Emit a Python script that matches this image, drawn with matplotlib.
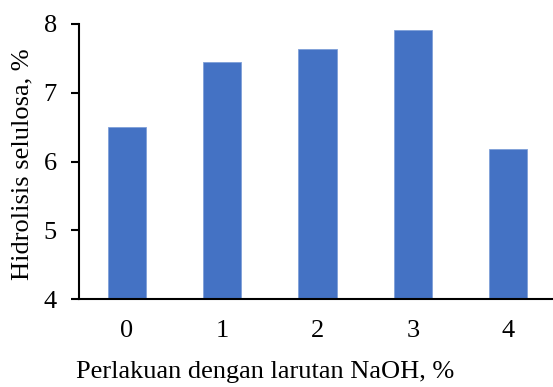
import matplotlib.pyplot as plt
import numpy as np

plt.rcParams["font.family"] = ["Liberation Serif", "DejaVu Serif"]

# data
naoh = ["0", "1", "2", "3", "4"]
hidrolisis = [6.5, 7.45, 7.64, 7.91, 6.18]

fig = plt.figure(figsize=(5.53, 3.87), dpi=100)
ax = fig.add_axes([79 / 553, 1 - 299 / 387, 477 / 553, 275 / 387])

x = np.arange(len(naoh))
ax.bar(x, hidrolisis, width=0.4, color="#4472C4", edgecolor="#7f9fd8", linewidth=0.6)
ax.set_xlim(-0.5, 4.5)
ax.set_ylim(4, 8)
ax.set_yticks([4, 5, 6, 7, 8])
ax.set_xticks(x)
ax.set_xticklabels(naoh)

for s in ["top", "right"]:
    ax.spines[s].set_visible(False)
ax.spines["left"].set_linewidth(1.5)
ax.spines["bottom"].set_linewidth(1.5)
ax.tick_params(axis="y", length=6, width=1.5, pad=10, labelsize=19)
ax.tick_params(axis="x", length=0, pad=15, labelsize=19)

fig.text(265 / 553, 1 - 372 / 387, "Perlakuan dengan larutan NaOH, %", ha="center",
         va="center", fontsize=19)
fig.text(22 / 553, 1 - 164 / 387, "Hidrolisis selulosa, %", ha="center", va="center",
         rotation=90, fontsize=19)

fig.savefig("out.png", dpi=100)
